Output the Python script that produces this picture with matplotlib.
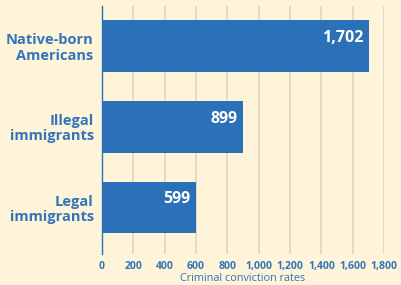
import matplotlib
matplotlib.use("Agg")
import matplotlib.pyplot as plt

categories = ["Native-born\nAmericans", "Illegal\nimmigrants", "Legal\nimmigrants"]
values = [1702, 899, 599]
ticks = [0, 200, 400, 600, 800, 1000, 1200, 1400, 1600, 1800]
tick_labels = ["0", "200", "400", "600", "800", "1,000", "1,200", "1,400", "1,600", "1,800"]
value_labels = ["1,702", "899", "599"]

bg = "#fdf4da"
blue = "#2b71b8"
txt = "#3474bb"

plt.rcParams['font.family'] = ['Open Sans', 'DejaVu Sans']
fig = plt.figure(figsize=(4.01, 2.85), dpi=100, facecolor=bg)
ax = fig.add_axes([0.2544, 0.1088, 0.7032, 0.8702])
ax.set_facecolor(bg)

y = list(range(len(categories)))
ax.barh(y, values, height=0.64, color=blue, zorder=3)
ax.set_ylim(2.576, -0.495)
ax.set_xlim(0, 1800)
ax.set_xticks(ticks)
ax.set_xticklabels(tick_labels, fontsize=7.5, fontweight='bold', color=txt)
ax.set_yticks(y)
ax.set_yticklabels(categories, fontsize=10.5, fontweight='bold', color=txt, linespacing=1.1)
ax.tick_params(axis='x', length=0, pad=5)
ax.tick_params(axis='y', length=0, pad=6)
ax.grid(axis='x', color='#dcd6c8', linewidth=1.2, zorder=0)
for s in ['top', 'right', 'bottom']:
    ax.spines[s].set_visible(False)
ax.spines['left'].set_color(blue)
ax.spines['left'].set_linewidth(1.0)
ax.spines['left'].set_zorder(4)

for yi, v, lab in zip(y, values, value_labels):
    ax.text(v - 35, yi - 0.1, lab, ha='right', va='center', color='white',
            fontsize=11.5, fontweight='bold', zorder=5)

ax.set_xlabel("Criminal conviction rates", fontsize=7.8, color=txt, labelpad=1)

fig.savefig("out.png", dpi=100, facecolor=bg)
